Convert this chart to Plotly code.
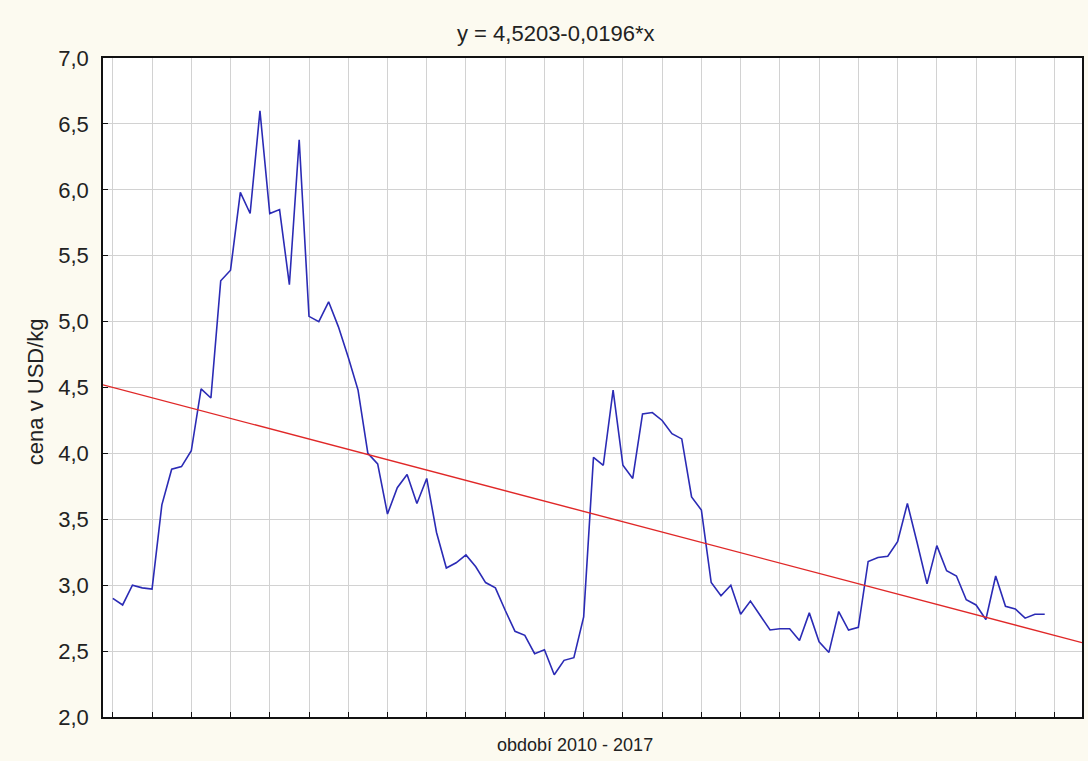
import plotly.graph_objects as go

# Monthly price, USD/kg, 2010-2017 (96 observations)
months = list(range(1, 97))
price = [
    2.90, 2.85, 3.00, 2.98, 2.97, 3.61, 3.88, 3.90, 4.02, 4.49,
    4.42, 5.31, 5.39, 5.98, 5.82, 6.60, 5.82, 5.85, 5.28, 6.38,
    5.04, 5.00, 5.15, 4.96, 4.73, 4.48, 4.00, 3.92, 3.54, 3.74,
    3.84, 3.62, 3.81, 3.40, 3.13, 3.17, 3.23, 3.14, 3.02, 2.98,
    2.81, 2.65, 2.62, 2.48, 2.51, 2.32, 2.43, 2.45, 2.76, 3.97,
    3.91, 4.48, 3.91, 3.81, 4.30, 4.31, 4.25, 4.15, 4.11, 3.67,
    3.57, 3.02, 2.92, 3.00, 2.78, 2.88, 2.77, 2.66, 2.67, 2.67,
    2.58, 2.79, 2.57, 2.49, 2.80, 2.66, 2.68, 3.18, 3.21, 3.22,
    3.33, 3.62, 3.32, 3.01, 3.30, 3.11, 3.07, 2.89, 2.85, 2.74,
    3.07, 2.84, 2.82, 2.75, 2.78, 2.78,
]

# Linear trend y = a + b*x
intercept = 4.5203
slope = -0.0196
x_span = [0, 99.8]
trend = [intercept + slope * x for x in x_span]

y_ticks = [2.0, 2.5, 3.0, 3.5, 4.0, 4.5, 5.0, 5.5, 6.0, 6.5, 7.0]
x_ticks = list(range(1, 98, 4))

FONT = "Liberation Sans, Arial, sans-serif"

fig = go.Figure()
fig.add_trace(go.Scatter(
    x=months, y=price, mode="lines",
    line=dict(color="#2B2BB5", width=1.6),
    showlegend=False,
))
fig.add_trace(go.Scatter(
    x=x_span, y=trend, mode="lines",
    line=dict(color="#E02828", width=1.4),
    showlegend=False,
))

fig.update_layout(
    width=1088, height=761,
    margin=dict(l=103, r=4, t=58, b=44),
    paper_bgcolor="#FCFAF0",
    plot_bgcolor="#FFFFFF",
    separators=",.",
    font=dict(family=FONT, size=20, color="#222222"),
    showlegend=False,
    annotations=[
        dict(text="y = 4,5203-0,0196*x", xref="paper", yref="paper",
             x=(557 - 103) / 981, y=1 + (58 - 33) / 659,
             xanchor="center", yanchor="middle", showarrow=False,
             font=dict(size=22)),
        dict(text="období 2010 - 2017", xref="paper", yref="paper",
             x=(576 - 103) / 981, y=-(745 - 717) / 659,
             xanchor="center", yanchor="middle", showarrow=False,
             font=dict(size=18)),
        dict(text="cena v USD/kg", xref="paper", yref="paper",
             x=-(103 - 35) / 981, y=(717 - 392) / 659, textangle=-90,
             xanchor="center", yanchor="middle", showarrow=False,
             font=dict(size=22)),
    ],
)

fig.update_xaxes(
    range=x_span, tickvals=x_ticks, showticklabels=False,
    ticks="inside", ticklen=5, tickcolor="#111111",
    showgrid=True, gridcolor="#D2D2D2", gridwidth=1,
    showline=True, linecolor="#111111", linewidth=1.5, mirror=True,
    zeroline=False,
)
fig.update_yaxes(
    range=[2.0, 7.0], tickvals=y_ticks, tickformat=".1f",
    ticks="inside", ticklen=5, tickcolor="#111111",
    showgrid=True, gridcolor="#D2D2D2", gridwidth=1,
    showline=True, linecolor="#111111", linewidth=1.5, mirror=True,
    zeroline=False, ticklabelstandoff=8,
    tickfont=dict(size=22),
)

fig.write_html("out.html")
